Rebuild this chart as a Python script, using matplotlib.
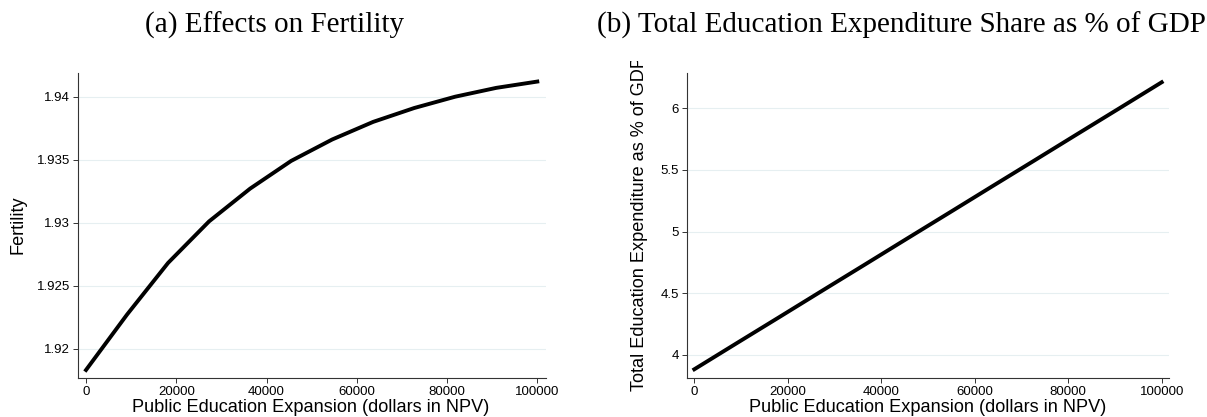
import matplotlib.pyplot as plt
from matplotlib.transforms import Bbox, TransformedBbox

# public education expansion (dollars in NPV)
expansion = [0, 9091, 18182, 27273, 36364, 45455, 54545, 63636, 72727, 81818, 90909, 100000]
fertility = [1.9183, 1.9227, 1.9268, 1.9301, 1.9327, 1.9349, 1.9366, 1.9380, 1.9391, 1.9400, 1.9407, 1.9412]
edu_share = [3.884, 4.096, 4.307, 4.519, 4.730, 4.942, 5.153, 5.365, 5.576, 5.788, 5.999, 6.211]

fert_ticks = [1.92, 1.925, 1.93, 1.935, 1.94]
fert_labels = ['1.92', '1.925', '1.93', '1.935', '1.94']
share_ticks = [4, 4.5, 5, 5.5, 6]
share_labels = ['4', '4.5', '5', '5.5', '6']
x_ticks = [0, 20000, 40000, 60000, 80000, 100000]

W, H = 1207, 417
fig = plt.figure(figsize=(W / 100, H / 100), dpi=100)

sans = ['Liberation Sans', 'DejaVu Sans']
serif = ['Liberation Serif', 'DejaVu Serif']
LAB = 13.1

def style(ax):
    ax.spines['top'].set_visible(False)
    ax.spines['right'].set_visible(False)
    for s in ['left', 'bottom']:
        ax.spines[s].set_linewidth(0.8)
        ax.spines[s].set_color('#333333')
    ax.tick_params(length=3.6, width=0.7, labelsize=9.5, color='#333333', pad=2)
    for lab in ax.get_xticklabels() + ax.get_yticklabels():
        lab.set_family(sans)
    ax.grid(axis='y', color='#e6eff1', linewidth=0.8)
    ax.set_axisbelow(True)

# (a) fertility
ax1 = fig.add_axes([77.7 / W, 1 - 378.3 / H, (545.7 - 77.7) / W, (378.3 - 73) / H])
ax1.plot(expansion, fertility, color='black', lw=2.8)
ax1.set_xlim(-1840, 101860)
ax1.set_ylim(1.91764, 1.94188)
ax1.set_xticks(x_ticks)
ax1.set_xticklabels([str(v) for v in x_ticks])
ax1.set_yticks(fert_ticks)
ax1.set_yticklabels(fert_labels)
style(ax1)
fig.text(311 / W, 1 - 408 / H, 'Public Education Expansion (dollars in NPV)', family=sans,
         fontsize=LAB, ha='center', va='center')
fig.text(18 / W, 1 - 225 / H, 'Fertility', family=sans, fontsize=LAB, rotation=90,
         ha='center', va='center')
fig.text(275 / W, 1 - 25 / H, '(a) Effects on Fertility', family=serif, fontsize=21,
         ha='center', va='center')

# (b) education expenditure share
ax2 = fig.add_axes([686.7 / W, 1 - 378.3 / H, (1169.3 - 686.7) / W, (378.3 - 73) / H])
ax2.plot(expansion, edu_share, color='black', lw=2.8)
ax2.set_xlim(-1626, 101626)
ax2.set_ylim(3.811, 6.286)
ax2.set_xticks(x_ticks)
ax2.set_xticklabels([str(v) for v in x_ticks])
ax2.set_yticks(share_ticks)
ax2.set_yticklabels(share_labels)
style(ax2)
fig.text(928 / W, 1 - 408 / H, 'Public Education Expansion (dollars in NPV)', family=sans,
         fontsize=LAB, ha='center', va='center')
ylab = fig.text(639 / W, 1 - 391 / H, 'Total Education Expenditure as % of GDP', family=sans,
                fontsize=LAB, rotation=90, ha='center', va='bottom')
# the label runs past the top of the panel and is cut there
ylab.set_clip_box(TransformedBbox(Bbox([[0, 0], [1, 1 - 61 / H]]), fig.transFigure))
ylab.set_clip_on(True)
fig.text(901.5 / W, 1 - 25 / H, '(b) Total Education Expenditure Share as % of GDP', family=serif,
         fontsize=21, ha='center', va='center')

fig.savefig('out.png', dpi=100)
